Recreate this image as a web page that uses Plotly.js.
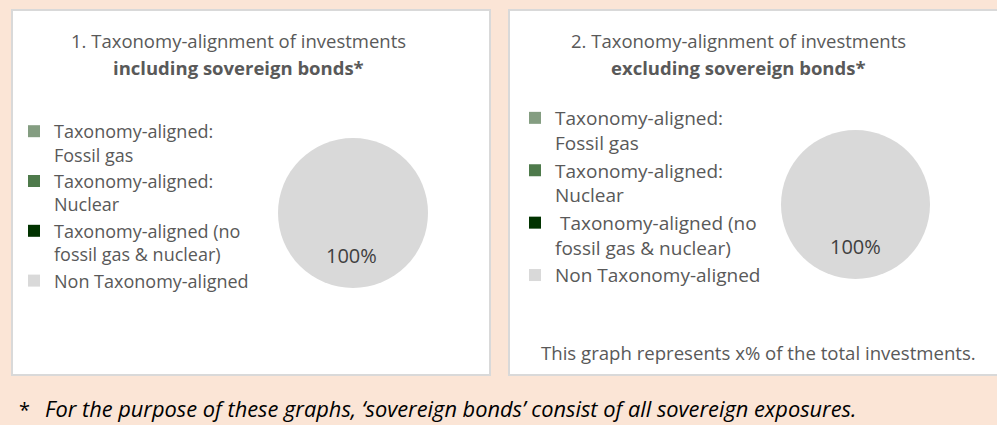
<!DOCTYPE html>
<html>
<head>
<meta charset="utf-8">
<script src="https://cdn.plot.ly/plotly-3.0.1.min.js"></script>
<style>
html,body{margin:0;padding:0;background:#FBE5D6;}
#chart{width:997px;height:425px;}
</style>
</head>
<body>
<div id="chart"></div>
<script>
// ---- data ----
const categories = [
  "Taxonomy-aligned:<br>Fossil gas",
  "Taxonomy-aligned:<br>Nuclear",
  "Taxonomy-aligned (no<br>fossil gas & nuclear)",
  "Non Taxonomy-aligned"
];
const categoriesRight = [
  "Taxonomy-aligned:<br>Fossil gas",
  "Taxonomy-aligned:<br>Nuclear",
  " Taxonomy-aligned (no<br>fossil gas & nuclear)",
  "Non Taxonomy-aligned"
];
const valuesIncluding = [0, 0, 0, 100];
const valuesExcluding = [0, 0, 0, 100];
const sliceColors = ["#849D81", "#4E7A4B", "#013300", "#D9D9D9"];
const titleLeft = ["1. Taxonomy-alignment of investments", "including sovereign bonds*"];
const titleRight = ["2. Taxonomy-alignment of investments", "excluding sovereign bonds*"];
const noteRight = "This graph represents x% of the total investments.";
const footnote = "For the purpose of these graphs, \u2018sovereign bonds\u2019 consist of all sovereign exposures.";

// ---- helpers ----
const W = 997, H = 425;
const px = x => x / W;
const py = y => 1 - y / H;
const FONT = "'Open Sans', Lato, sans-serif";
const GREY = "#595959";

function pctLabels(vals) {
  const tot = vals.reduce((a, b) => a + b, 0);
  return vals.map(v => v > 0 ? Math.round(v / tot * 100) + "%" : "");
}
// Legend entries of the two pies are kept apart (zero-width mark on the right one)
const labelsRight = categoriesRight.map(c => c + "\u200B");

const traces = [
  {
    type: "pie", labels: categories, values: valuesIncluding, sort: false,
    marker: {colors: sliceColors, line: {width: 0}},
    textinfo: "none", hoverinfo: "label+percent",
    domain: {x: [px(278), px(428)], y: [py(288), py(138)]},
    legend: "legend", showlegend: true
  },
  {
    type: "pie", labels: labelsRight, values: valuesExcluding, sort: false,
    marker: {colors: sliceColors, line: {width: 0}},
    textinfo: "none", hoverinfo: "label+percent",
    domain: {x: [px(781), px(930)], y: [py(279), py(130)]},
    legend: "legend2", showlegend: true
  }
];

const annotations = [];
function addText(text, x, y, opts) {
  annotations.push(Object.assign({
    text: text, x: px(x), y: py(y), xref: "paper", yref: "paper",
    showarrow: false, xanchor: "center", yanchor: "middle",
    font: {family: FONT, size: 18.5, color: GREY}
  }, opts || {}));
}
addText(titleLeft[0], 238, 40);
addText("<b>" + titleLeft[1] + "</b>", 238, 67);
addText(titleRight[0], 738, 40);
addText("<b>" + titleRight[1] + "</b>", 738, 67);
addText(noteRight, 539, 352, {xanchor: "left", font: {family: FONT, size: 18.6, color: GREY}});
addText("*", 18, 424, {xanchor: "left", yanchor: "bottom", borderpad: 0, font: {family: FONT, size: 20, color: "#000000"}});
addText("<i>" + footnote + "</i>", 44, 424, {xanchor: "left", yanchor: "bottom", borderpad: 0, font: {family: FONT, size: 21.8, color: "#000000"}});

// data labels of the pies
const lblL = pctLabels(valuesIncluding), lblR = pctLabels(valuesExcluding);
lblL.forEach(t => { if (t) addText(t, 351, 256, {font: {family: FONT, size: 20, color: "#404040"}}); });
lblR.forEach(t => { if (t) addText(t, 855, 246, {font: {family: FONT, size: 20, color: "#404040"}}); });

const layout = {
  width: W, height: H,
  margin: {l: 0, r: 0, t: 0, b: 0},
  paper_bgcolor: "#FBE5D6",
  plot_bgcolor: "rgba(0,0,0,0)",
  showlegend: true,
  legend: {
    x: px(14), y: py(113), xanchor: "left", yanchor: "top",
    bgcolor: "rgba(0,0,0,0)", valign: "top", itemclick: false,
    font: {family: FONT, size: 18, color: GREY}
  },
  legend2: {
    x: px(515), y: py(99), xanchor: "left", yanchor: "top",
    bgcolor: "rgba(0,0,0,0)", valign: "top", itemclick: false,
    font: {family: FONT, size: 19, color: GREY}
  },
  shapes: [
    {type: "rect", xref: "paper", yref: "paper", layer: "below",
     x0: px(12), x1: px(490), y0: py(375), y1: py(10),
     fillcolor: "#FFFFFF", line: {color: "#D9D9D9", width: 2}},
    {type: "rect", xref: "paper", yref: "paper", layer: "below",
     x0: px(509), x1: px(1005), y0: py(375), y1: py(10),
     fillcolor: "#FFFFFF", line: {color: "#D9D9D9", width: 2}}
  ],
  annotations: annotations
};

Plotly.newPlot("chart", traces, layout, {displayModeBar: false, staticPlot: true});
</script>
</body>
</html>
